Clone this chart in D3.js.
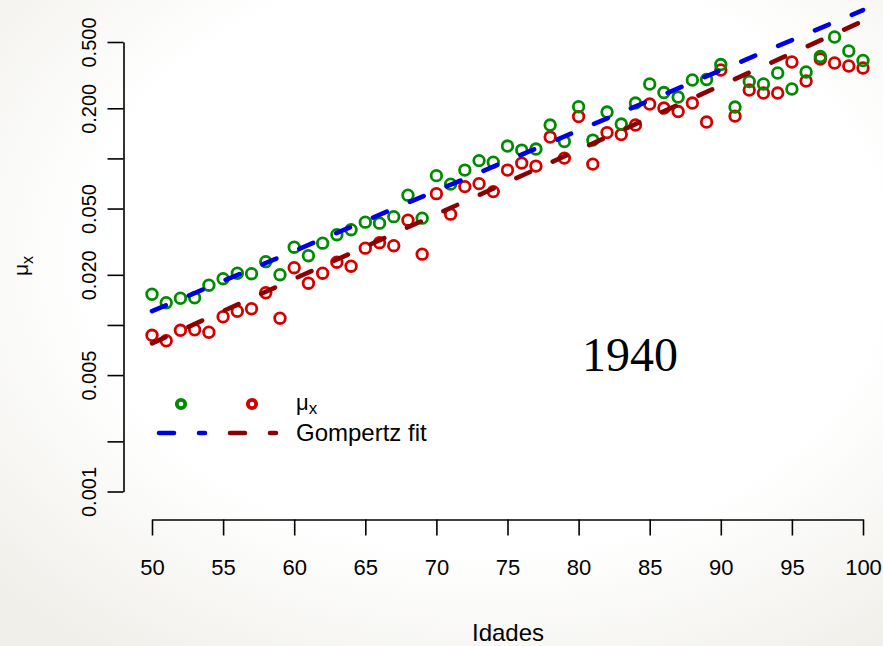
<!DOCTYPE html>
<html>
<head>
<meta charset="utf-8">
<script src="https://cdn.jsdelivr.net/npm/d3@7"></script>
<style>
  html, body { margin: 0; padding: 0; background: #ffffff; }
  svg { display: block; }
  text { font-family: "Liberation Sans", Arial, Helvetica, sans-serif; fill: #000; }
</style>
</head>
<body>
<svg id="chart" width="883" height="646"></svg>
<script>
// Ages and observed force of mortality (two series), log-scale plot
const ages = d3.range(50, 101);

const muGreen = [
  0.01529, 0.01360, 0.01447, 0.01457, 0.01733, 0.01896, 0.02045, 0.02031, 0.02399, 0.02003,
  0.02931, 0.02606, 0.03098, 0.03483, 0.03733, 0.04142, 0.04086, 0.04470, 0.06018, 0.04378,
  0.07881, 0.07008, 0.08507, 0.09700, 0.09499, 0.1186, 0.1122, 0.1138, 0.1586, 0.1262,
  0.2043, 0.1288, 0.1898, 0.1608, 0.2150, 0.2797, 0.2486, 0.2336, 0.2956, 0.2976,
  0.3662, 0.2034, 0.2895, 0.2797, 0.3257, 0.2610, 0.3302, 0.4090, 0.5358, 0.4414,
  0.3871
];

const muRed = [
  0.00867, 0.00803, 0.00929, 0.00936, 0.00904, 0.01120, 0.01209, 0.01251, 0.01561, 0.01098,
  0.02207, 0.01781, 0.02045, 0.02382, 0.02253, 0.02891, 0.03119, 0.02992, 0.04259, 0.02661,
  0.06144, 0.04627, 0.06770, 0.07056, 0.06318, 0.08507, 0.09370, 0.08990, 0.1343, 0.1004,
  0.1783, 0.09241, 0.1429, 0.1390, 0.1586, 0.2120, 0.2006, 0.1911, 0.2150, 0.1653,
  0.3395, 0.1795, 0.2574, 0.2469, 0.2469, 0.3791, 0.2915, 0.3952, 0.3739, 0.3588,
  0.3490
];

// Gompertz fits: straight lines on the log scale, given by their end values
const fitAges = [50, 100];
const fitGreen = [0.0121, 0.778];
const fitRed = [0.00776, 0.668];

// Axis ticks
const xTicks = d3.range(50, 101, 5);
const yTicks = [0.001, 0.002, 0.005, 0.01, 0.02, 0.05, 0.1, 0.2, 0.5];
const yTickLabels = ["0.001", "", "0.005", "", "0.020", "0.050", "", "0.200", "0.500"];

const COL_GREEN = "#008b00";
const COL_RED = "#d40000";
const COL_BLUE = "#0000e6";
const COL_DARKRED = "#8b0000";

const svg = d3.select("#chart");
const W = 883, H = 646;

// soft paper-like background
const defs = svg.append("defs");
const grad = defs.append("radialGradient")
  .attr("id", "bg").attr("cx", "55%").attr("cy", "40%").attr("r", "75%");
grad.append("stop").attr("offset", "0%").attr("stop-color", "#ffffff");
grad.append("stop").attr("offset", "60%").attr("stop-color", "#ffffff");
grad.append("stop").attr("offset", "100%").attr("stop-color", "#f0efea");
svg.append("rect").attr("width", W).attr("height", H).attr("fill", "url(#bg)");

const x = d3.scaleLinear().domain([50, 100]).range([152, 863]);
const y = d3.scaleLog().domain([0.001, 0.5]).range([491.5, 42]);

// x axis
const xAxis = svg.append("g")
  .attr("transform", "translate(0,519.5)")
  .call(d3.axisBottom(x).tickValues(xTicks).tickSize(16).tickSizeOuter(0).tickPadding(24)
        .tickFormat(d3.format("d")));
xAxis.selectAll("path, line").attr("stroke", "#000").attr("stroke-width", 1.6);
xAxis.selectAll("text").style("font-size", "22px").attr("fill", "#000");

// y axis with vertical labels
const yAxis = svg.append("g")
  .attr("transform", "translate(123.5,0)")
  .call(d3.axisLeft(y).tickValues(yTicks).tickSize(16).tickSizeOuter(0)
        .tickFormat((d, i) => yTickLabels[i]));
yAxis.selectAll("path, line").attr("stroke", "#000").attr("stroke-width", 1.6);
yAxis.selectAll("text")
  .attr("transform", "rotate(-90)")
  .attr("x", 0).attr("y", -28).attr("dy", 0)
  .attr("text-anchor", "middle")
  .style("font-size", "20px").attr("fill", "#000");

// axis titles
svg.append("text")
  .attr("x", 508).attr("y", 641)
  .attr("text-anchor", "middle")
  .style("font-size", "24px")
  .text("Idades");

const yTitle = svg.append("text")
  .attr("transform", "translate(28,266) rotate(-90)")
  .attr("text-anchor", "middle")
  .style("font-size", "21px");
yTitle.append("tspan").text("μ");
yTitle.append("tspan").attr("dy", 5).style("font-size", "16px").text("x");

// observed points
const plot = svg.append("g");
plot.selectAll("circle.red")
  .data(ages.map((a, i) => [a, muRed[i]]))
  .join("circle").attr("class", "red")
  .attr("cx", d => x(d[0])).attr("cy", d => y(d[1]))
  .attr("r", 5.3).attr("fill", "none")
  .attr("stroke", COL_RED).attr("stroke-width", 2.8);

plot.selectAll("circle.green")
  .data(ages.map((a, i) => [a, muGreen[i]]))
  .join("circle").attr("class", "green")
  .attr("cx", d => x(d[0])).attr("cy", d => y(d[1]))
  .attr("r", 5.3).attr("fill", "none")
  .attr("stroke", COL_GREEN).attr("stroke-width", 2.8);

// fitted lines
const line = d3.line().x(d => x(d[0])).y(d => y(d[1]));
const dash = "15 25";
plot.append("path")
  .datum(fitAges.map((a, i) => [a, fitRed[i]]))
  .attr("d", line).attr("fill", "none")
  .attr("stroke", COL_DARKRED).attr("stroke-width", 4.6)
  .attr("stroke-linecap", "round").attr("stroke-dasharray", dash);
plot.append("path")
  .datum(fitAges.map((a, i) => [a, fitGreen[i]]))
  .attr("d", line).attr("fill", "none")
  .attr("stroke", COL_BLUE).attr("stroke-width", 4.6)
  .attr("stroke-linecap", "round").attr("stroke-dasharray", dash);

// year label
svg.append("text")
  .attr("x", 630).attr("y", 371)
  .attr("text-anchor", "middle")
  .style("font-family", "'Liberation Serif', 'Times New Roman', serif")
  .style("font-size", "48px")
  .text("1940");

// legend
const legend = svg.append("g");
const legCols = [181, 252];
const legColors = [COL_GREEN, COL_RED];
const legLineColors = [COL_BLUE, COL_DARKRED];
legCols.forEach((cx, i) => {
  legend.append("circle")
    .attr("cx", cx).attr("cy", 404).attr("r", 4.2)
    .attr("fill", "none").attr("stroke", legColors[i]).attr("stroke-width", 3.8);
  legend.append("line")
    .attr("x1", cx - 24).attr("x2", cx + 24).attr("y1", 433).attr("y2", 433)
    .attr("stroke", legLineColors[i]).attr("stroke-width", 4.6)
    .attr("stroke-linecap", "round").attr("stroke-dasharray", dash)
    .attr("stroke-dashoffset", -2);
});
const legMu = legend.append("text").attr("x", 296).attr("y", 410).style("font-size", "22px");
legMu.append("tspan").text("μ");
legMu.append("tspan").attr("dy", 4).style("font-size", "17px").text("x");
legend.append("text").attr("x", 296).attr("y", 441).style("font-size", "24px").text("Gompertz fit");
</script>
</body>
</html>
